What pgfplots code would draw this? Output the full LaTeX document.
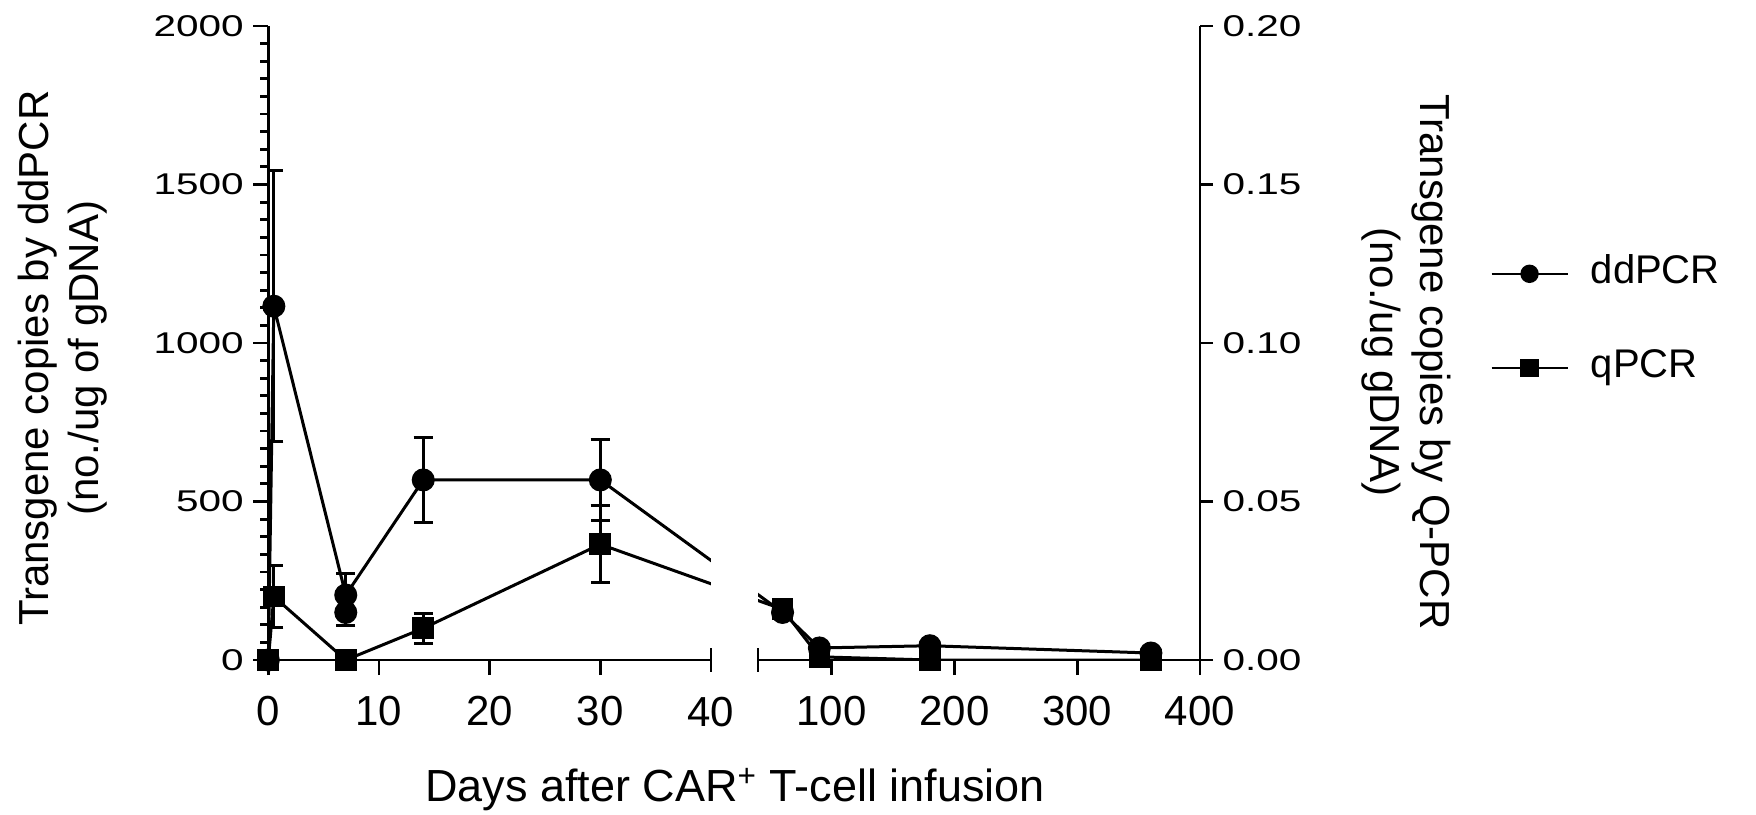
\documentclass[border=0pt]{standalone}
\usepackage{pgfplots}
\usepackage{pgfplotstable}
\pgfplotsset{compat=1.18}
\usepackage{fontspec}
\setmainfont{Liberation Sans}

% ddPCR, copies per ug gDNA (left axis): day, mean, error
\pgfplotstableread{
x y e
0 0 0
0.5 1116 428
7 205 69
14 568 134
30 568 129
60 150 0
90 38 0
180 45 0
360 22 0
}\dd
% qPCR, copies per ug gDNA (right axis)
\pgfplotstableread{
x y e
0 0 0
0.5 0.0200 0.0098
7 0 0
14 0.0100 0.0048
30 0.0365 0.0121
60 0.0160 0
90 0.0010 0
180 0 0
360 0 0
}\qp

\pgfplotsset{
  base/.style={scale only axis, height=317pt, ymin=0, clip=true, anchor=south west,
    axis line style={line width=1.4pt, -},
    every tick/.style={black, line width=1.4pt},
    tick align=outside, major tick length=7.5pt, minor tick length=4pt,
    /pgf/number format/assume math mode=true,
    /pgf/number format/set thousands separator={},
    xticklabel style={font=\fontsize{21}{25}\selectfont, yshift=-7pt},
    yticklabel style={font=\fontsize{15}{18}\selectfont, xscale=1.35}},
  ddstyle/.style={black, line width=1.5pt, mark=*, mark size=5pt, mark options={solid}},
  qstyle/.style={black, line width=1.5pt, mark=square*, mark size=4.7pt, mark options={solid}},
  ebars/.style={error bars/.cd, y dir=both, y explicit,
    error bar style={line width=1.5pt, solid},
    error mark options={line width=1.5pt, mark size=4.8pt, rotate=90}},
}

\begin{document}
\begin{tikzpicture}
\useasboundingbox (0,0) rectangle (878pt,407pt);

% segment 1: days 0-40, left axis
\begin{axis}[base, at={(134.15pt,77pt)}, width=221.35pt,
  xmin=0, xmax=40, ymax=2000,
  axis x line*=bottom, axis y line*=left,
  xtick={0,10,20,30}, extra x ticks={40},
  extra x tick style={tick align=center, major tick length=11.5pt,
    xticklabel style={yshift=-2.5pt}},
  ytick={0,500,1000,1500,2000}, minor y tick num=8,
  xlabel={Days after CAR\textsuperscript{+} T-cell infusion},
  xlabel style={at={(rel axis cs:1.054,-0.204)}, anchor=center, font=\fontsize{22.5}{27}\selectfont},
  ylabel={Transgene copies by ddPCR\\(no./ug of gDNA)},
  ylabel style={at={(rel axis cs:-0.464,0.476)}, anchor=center, align=center, font=\fontsize{21}{25}\selectfont}]
  \addplot[ddstyle, restrict x to domain=0:40, ebars] table[x=x, y=y, y error=e] {\dd};
  \addplot[ddstyle, only marks, ebars] coordinates {(7,150) +- (0,40)};
  % line towards day 60, drawn across the break
  \addplot[black, line width=1.5pt] coordinates {(30,568) (46.46,150)};
\end{axis}
\begin{axis}[base, at={(134.15pt,77pt)}, width=221.35pt,
  xmin=0, xmax=40, ymax=0.2, hide axis]
  \addplot[qstyle, restrict x to domain=0:40, ebars] table[x=x, y=y, y error=e] {\qp};
  \addplot[black, line width=1.5pt] coordinates {(30,0.0365) (46.46,0.016)};
\end{axis}

% segment 2: days 40-400, right axis
\begin{axis}[base, at={(379pt,77pt)}, width=221pt,
  xmin=40, xmax=400, ymax=2000,
  axis x line*=bottom, axis y line=none,
  xtick={100,200,300,400}, extra x ticks={40}, extra x tick labels={},
  extra x tick style={tick align=center, major tick length=11.5pt}]
  \addplot[ddstyle, restrict x to domain=40:400] table[x=x, y=y] {\dd};
  \addplot[black, line width=1.5pt] coordinates {(-88.4,568) (60,150)};
\end{axis}
\begin{axis}[base, at={(379pt,77pt)}, width=221pt,
  xmin=40, xmax=400, ymax=0.2,
  axis x line=none, axis y line*=right, major tick length=6.5pt,
  ytick={0,0.05,0.1,0.15,0.2}, scaled y ticks=false,
  yticklabel style={/pgf/number format/.cd, fixed, fixed zerofill, precision=2, /tikz/.cd, xscale=1.0},
  ylabel={Transgene copies by Q-PCR\\(no./ug gDNA)},
  ylabel style={at={(rel axis cs:1.467,0.47)}, anchor=center, rotate=180, align=center, font=\fontsize{21}{25}\selectfont},
  legend style={at={(rel axis cs:1.656,0.535)}, anchor=west, draw=none, fill=none, inner sep=0pt,
    row sep=29pt, column sep=11pt,
    nodes={inner sep=0pt, font=\fontsize{20}{24}\selectfont, text height=14pt, text depth=4pt}},
  legend cell align=left,
  legend image code/.code={\draw[mark repeat=2, mark phase=2, #1] plot coordinates {(0pt,0pt) (19pt,0pt) (38pt,0pt)};}]
  \addlegendimage{black, line width=1.2pt, mark=*, mark size=4pt}
  \addlegendentry{ddPCR}
  \addlegendimage{black, line width=1.2pt, mark=square*, mark size=4pt}
  \addlegendentry{qPCR}
  \addplot[qstyle, restrict x to domain=40:400, forget plot] table[x=x, y=y] {\qp};
  \addplot[black, line width=1.5pt, forget plot] coordinates {(-88.4,0.0365) (60,0.016)};
\end{axis}
\end{tikzpicture}
\end{document}
